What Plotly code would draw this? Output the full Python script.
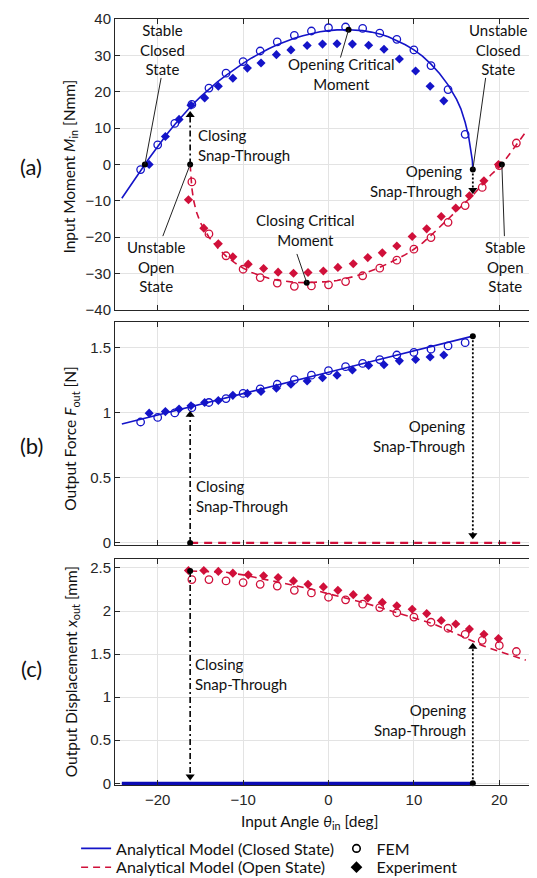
import plotly.graph_objects as go

# ---------------- data ----------------
# Panel (a): input moment M_in [Nmm] vs input angle theta_in [deg]
theta_model_closed = [-24.2, -23, -22, -21.5, -21, -20, -19, -18, -17, -16, -15, -14, -13, -12, -11, -10, -9, -8,
                      -7, -6, -5, -4, -3, -2, -1, 0, 1, 2.35, 3, 4, 5, 6, 7, 8, 9, 10, 11, 12, 13, 14, 15,
                      15.5, 16, 16.4, 16.7, 16.85, 16.9]
M_model_closed = [-9.3, -5.0, -1.5, 0.0, 1.7, 5.0, 8.1, 11.0, 13.8, 16.3, 18.6, 20.7, 22.7, 24.5, 26.2, 27.8, 29.3,
                  30.6, 31.8, 32.9, 33.9, 34.7, 35.4, 36.0, 36.5, 36.8, 37.0, 37.05, 37.0, 36.8, 36.4, 35.9, 35.1,
                  34.1, 32.9, 31.5, 29.8, 27.6, 25.0, 21.9, 17.9, 15.3, 11.6, 7.8, 4.0, 1.0, -1.4]
theta_model_open = [-16.2, -16.1, -16.0, -15.8, -15.5, -15, -14.5, -14, -13, -12, -11, -10, -9, -8, -7, -6, -5, -4,
                    -2.55, -1, 0, 1, 2, 3, 4, 5, 6, 7, 8, 9, 10, 11, 12, 13, 14, 15, 16, 17, 18, 19, 20.3, 21, 22,
                    23.0]
M_model_open = [0.0, -4.0, -6.5, -9.8, -12.8, -16.0, -18.2, -20.0, -22.9, -25.2, -27.0, -28.5, -29.7, -30.6, -31.3,
                -31.8, -32.2, -32.4, -32.5, -32.4, -32.2, -31.9, -31.4, -30.8, -30.1, -29.3, -28.3, -27.2, -26.0,
                -24.8, -23.3, -21.6, -19.5, -17.3, -15.1, -12.7, -10.5, -8.2, -5.6, -2.9, 0.0, 2.3, 5.3, 8.6]

theta_fem_closed = [-22, -20, -18, -16, -14, -12, -10, -8, -6, -4, -2, 0, 2, 4, 6, 8, 10, 12, 14, 16]
M_fem_closed = [-1.4, 5.4, 11.3, 16.5, 21.0, 25.1, 28.3, 31.2, 33.7, 35.5, 36.7, 37.6, 37.8, 37.4, 36.1, 34.4, 31.5,
                27.2, 20.6, 8.3]
theta_exp_closed = [-21.0, -19.1, -17.5, -16.1, -14.5, -12.9, -11.2, -9.5, -7.9, -6.1, -4.4, -2.5, -0.7, 1.0, 2.8,
                    4.7, 6.5, 8.3, 10.2, 11.9, 13.5]
M_exp_closed = [0.0, 7.7, 12.4, 16.3, 18.3, 21.5, 23.7, 26.5, 27.9, 30.2, 31.5, 32.7, 33.1, 33.2, 33.1, 32.8, 31.7,
                29.0, 25.7, 21.5, 17.5]
theta_fem_open = [-16, -14, -12, -10, -8, -6, -4, -2, 0, 2, 4, 6, 8, 10, 12, 14, 16, 18, 20, 22]
M_fem_open = [-4.8, -19.1, -25.1, -28.8, -31.1, -32.6, -33.5, -33.4, -33.1, -32.2, -30.6, -28.5, -26.3, -23.3, -20.1,
              -15.9, -11.3, -6.3, -0.3, 5.9]
theta_exp_open = [-16.4, -14.6, -12.9, -11.2, -9.4, -7.6, -5.9, -4.1, -2.4, -0.6, 1.1, 2.9, 4.6, 6.3, 8.0, 9.8, 11.5,
                  13.2, 14.9, 16.5, 18.2, 19.9]
M_exp_open = [-9.7, -17.5, -21.8, -25.4, -27.4, -28.6, -29.6, -29.9, -29.7, -29.3, -28.3, -27.3, -25.6, -24.3, -22.4,
              -19.8, -17.7, -14.3, -12.0, -8.6, -4.5, 0.0]

# key states in panel (a): stable closed, opening critical, unstable closed, unstable open, closing critical, stable open
key_theta = [-21.5, 2.35, 16.9, -16.2, -2.55, 20.3]
key_M = [0.0, 37.05, -1.4, 0.0, -32.5, 0.0]

# snap-through angles and arrow ends
theta_snap_close = -16.2
theta_snap_open = 16.9
snap_close_a = [0.0, 13.6]   # M: start, arrow tip
snap_open_a = [-1.4, -7.0]
snap_close_b = [0.0, 0.985]  # F
snap_open_b = [1.59, 0.06]
snap_close_c = [2.465, 0.08]  # x_out
snap_open_c = [0.0, 1.585]

# Panel (b): output force F_out [N]
theta_model_closed_b = [-24.2, -20, -16.2, -10, -5, 0, 5, 10, 16.9]
F_model_closed = [0.915, 0.985, 1.045, 1.15, 1.232, 1.313, 1.395, 1.477, 1.59]
theta_model_open_b = [-16.2, 23.0]
F_model_open = [0.0, 0.0]
F_fem_closed = [0.93, 0.965, 1.0, 1.04, 1.08, 1.11, 1.15, 1.185, 1.22, 1.255, 1.29, 1.325, 1.355, 1.38, 1.41, 1.445,
                1.465, 1.49, 1.515, 1.54]
F_exp_closed = [0.998, 1.01, 1.03, 1.055, 1.08, 1.095, 1.135, 1.15, 1.165, 1.19, 1.22, 1.245, 1.27, 1.29, 1.33, 1.365,
                1.37, 1.40, 1.41, 1.43, 1.445]

# Panel (c): output displacement x_out [mm]
theta_model_closed_c = [-24.2, 16.9]
x_model_closed = [0.0, 0.0]
theta_model_open_c = [-16.2, -14, -12, -10, -8, -6, -4, -2, 0, 2, 4, 6, 8, 10, 12, 14, 16, 18, 20, 22, 23.1]
x_model_open = [2.465, 2.46, 2.45, 2.42, 2.38, 2.34, 2.30, 2.255, 2.20, 2.15, 2.10, 2.04, 1.98, 1.92, 1.86, 1.78,
                1.69, 1.60, 1.53, 1.47, 1.43]
x_fem_open = [2.365, 2.365, 2.35, 2.33, 2.31, 2.29, 2.24, 2.21, 2.16, 2.13, 2.08, 2.04, 1.98, 1.93, 1.87, 1.80, 1.73,
              1.66, 1.60, 1.53]
x_exp_open = [2.47, 2.47, 2.46, 2.44, 2.42, 2.41, 2.39, 2.35, 2.31, 2.28, 2.24, 2.19, 2.15, 2.10, 2.06, 2.02, 1.97,
              1.89, 1.85, 1.79, 1.73, 1.68]

x_ticks = [-20, -10, 0, 10, 20]
yticks_a = [-40, -30, -20, -10, 0, 10, 20, 30, 40]
yticks_b = [0, 0.5, 1, 1.5]
ytext_b = ["0", "0.5", "1", "1.5"]
yticks_c = [0, 0.5, 1, 1.5, 2, 2.5]
ytext_c = ["0", "0.5", "1", "1.5", "2", "2.5"]

# ---------------- styling ----------------
BLUE = "#1414C8"
RED = "#D0103A"
BLACK = "#000000"
AX = "#262626"
TXT = "Lato, 'Open Sans', sans-serif"
NUM = "'Liberation Sans', Arial, sans-serif"
SERIF = "'Liberation Serif', 'DejaVu Serif', serif"
ANN_SIZE = 15
TITLE_SIZE = 15.5
LEG_SIZE = 16

W, H = 537, 878
ML, MR, MT, MB = 107, 2, 6, 98
PW, PH = W - ML - MR, H - MT - MB


def px_x(px):
    return (px - ML) / PW


def px_y(py):
    return 1 - (py - MT) / PH


fig = go.Figure()

panels = [("x", "y"), ("x2", "y2"), ("x3", "y3")]


def add(xa, ya, x, y, **kw):
    fig.add_trace(go.Scatter(x=x, y=y, xaxis=xa, yaxis=ya, hoverinfo="skip", **kw))


fem_marker = dict(symbol="circle-open", size=7.5, line=dict(width=1.3))
exp_marker = dict(symbol="diamond", size=7, line=dict(width=0))
dot_marker = dict(symbol="circle", size=6, color=BLACK)
DASHDOT = "6px,3px,2px,3px"

# ---- panel (a)
xa, ya = panels[0]
add(xa, ya, theta_fem_closed, M_fem_closed, mode="markers", marker=dict(color=BLUE, **fem_marker), showlegend=False)
add(xa, ya, theta_exp_closed, M_exp_closed, mode="markers", marker=dict(color=BLUE, **exp_marker), showlegend=False)
add(xa, ya, theta_fem_open, M_fem_open, mode="markers", marker=dict(color=RED, **fem_marker), showlegend=False)
add(xa, ya, theta_exp_open, M_exp_open, mode="markers", marker=dict(color=RED, **exp_marker), showlegend=False)
add(xa, ya, theta_model_closed, M_model_closed, mode="lines", line=dict(color=BLUE, width=1.6),
    name="Analytical Model (Closed State)", legend="legend", showlegend=True)
add(xa, ya, theta_model_open, M_model_open, mode="lines", line=dict(color=RED, width=1.6, dash="7px,5px"),
    name="Analytical Model (Open State)", legend="legend3", showlegend=True)
# snap-through arrows
add(xa, ya, [theta_snap_close] * 2, snap_close_a, mode="lines",
    line=dict(color=BLACK, width=1.6, dash=DASHDOT), showlegend=False)
add(xa, ya, [theta_snap_close], [snap_close_a[1]], mode="markers",
    marker=dict(symbol="triangle-up", size=8, color=BLACK), showlegend=False)
add(xa, ya, [theta_snap_open] * 2, snap_open_a, mode="lines",
    line=dict(color=BLACK, width=1.8, dash="2px,2px"), showlegend=False)
add(xa, ya, [theta_snap_open], [snap_open_a[1]], mode="markers",
    marker=dict(symbol="triangle-down", size=8, color=BLACK), showlegend=False)
add(xa, ya, key_theta, key_M, mode="markers", marker=dot_marker, showlegend=False)

# ---- panel (b)
xa, ya = panels[1]
add(xa, ya, theta_fem_closed, F_fem_closed, mode="markers", marker=dict(color=BLUE, **fem_marker), showlegend=False)
add(xa, ya, theta_exp_closed, F_exp_closed, mode="markers", marker=dict(color=BLUE, **exp_marker), showlegend=False)
add(xa, ya, theta_model_closed_b, F_model_closed, mode="lines", line=dict(color=BLUE, width=1.6), showlegend=False)
add(xa, ya, theta_model_open_b, F_model_open, mode="lines", line=dict(color=RED, width=2.2, dash="8px,6px"),
    showlegend=False)
add(xa, ya, [theta_snap_close] * 2, snap_close_b, mode="lines",
    line=dict(color=BLACK, width=1.6, dash=DASHDOT), showlegend=False)
add(xa, ya, [theta_snap_close], [snap_close_b[1]], mode="markers",
    marker=dict(symbol="triangle-up", size=8, color=BLACK), showlegend=False)
add(xa, ya, [theta_snap_open] * 2, snap_open_b, mode="lines",
    line=dict(color=BLACK, width=1.8, dash="2px,2px"), showlegend=False)
add(xa, ya, [theta_snap_open], [snap_open_b[1]], mode="markers",
    marker=dict(symbol="triangle-down", size=8, color=BLACK), showlegend=False)
add(xa, ya, [theta_snap_close, theta_snap_open], [snap_close_b[0], snap_open_b[0]], mode="markers",
    marker=dot_marker, showlegend=False, cliponaxis=False)

# ---- panel (c)
xa, ya = panels[2]
add(xa, ya, theta_fem_open, x_fem_open, mode="markers", marker=dict(color=RED, **fem_marker), showlegend=False)
add(xa, ya, theta_exp_open, x_exp_open, mode="markers", marker=dict(color=RED, **exp_marker), showlegend=False)
add(xa, ya, theta_model_open_c, x_model_open, mode="lines", line=dict(color=RED, width=1.6, dash="7px,5px"),
    showlegend=False)
add(xa, ya, theta_model_closed_c, x_model_closed, mode="lines", line=dict(color="#0A0AB4", width=3.2),
    showlegend=False)
add(xa, ya, [theta_snap_close] * 2, snap_close_c, mode="lines",
    line=dict(color=BLACK, width=1.6, dash=DASHDOT), showlegend=False)
add(xa, ya, [theta_snap_close], [snap_close_c[1]], mode="markers",
    marker=dict(symbol="triangle-down", size=8, color=BLACK), showlegend=False)
add(xa, ya, [theta_snap_open] * 2, snap_open_c, mode="lines",
    line=dict(color=BLACK, width=1.8, dash="2px,2px"), showlegend=False)
add(xa, ya, [theta_snap_open], [snap_open_c[1]], mode="markers",
    marker=dict(symbol="triangle-up", size=8, color=BLACK), showlegend=False)
add(xa, ya, [theta_snap_close, theta_snap_open], [snap_close_c[0], snap_open_c[0]], mode="markers",
    marker=dot_marker, showlegend=False, cliponaxis=False)

# legend-only entries for the marker types
fig.add_trace(go.Scatter(x=[None], y=[None], mode="markers", name="FEM", legend="legend2",
                         marker=dict(symbol="circle-open", size=7.5, color=BLACK, line=dict(width=1.6))))
fig.add_trace(go.Scatter(x=[None], y=[None], mode="markers", name="Experiment", legend="legend4",
                         marker=dict(symbol="diamond", size=9, color=BLACK)))

# ---------------- axes ----------------
axis_common = dict(showline=True, linecolor=AX, linewidth=1, mirror="ticks", ticks="inside", ticklen=5,
                   tickcolor=AX, tickwidth=1, showgrid=True, gridcolor="#E3E3E3", gridwidth=1, zeroline=False,
                   tickfont=dict(family=NUM, size=15, color=AX), ticklabeloverflow="allow")
dom_a = [px_y(300), 1.0]
dom_b = [px_y(537), px_y(312)]
dom_c = [0.0, px_y(552)]

fig.update_layout(
    xaxis=dict(domain=[0, 1], anchor="y", range=[-25, 25], tickvals=x_ticks, showticklabels=False, **axis_common),
    yaxis=dict(domain=dom_a, anchor="x", range=[-40, 40], tickvals=yticks_a, **axis_common),
    xaxis2=dict(domain=[0, 1], anchor="y2", range=[-25, 25], tickvals=x_ticks, showticklabels=False, **axis_common),
    yaxis2=dict(domain=dom_b, anchor="x2", range=[-0.012, 1.7], tickvals=yticks_b, ticktext=ytext_b, **axis_common),
    xaxis3=dict(domain=[0, 1], anchor="y3", range=[-25, 25], tickvals=x_ticks, ticklabelstandoff=1, **axis_common),
    yaxis3=dict(domain=dom_c, anchor="x3", range=[-0.02, 2.6], tickvals=yticks_c, ticktext=ytext_c, **axis_common),
)

# ---------------- annotations ----------------
ann = []


def note(text, x, y, xref, yref, xanchor="center", align="center", size=ANN_SIZE, **kw):
    ann.append(dict(text=text, x=x, y=y, xref=xref, yref=yref, xanchor=xanchor, yanchor="middle", align=align,
                    showarrow=False, font=dict(family=TXT, size=size, color="#111111"), **kw))


# panel (a)
note("Stable<br>Closed<br>State", -19.4, 31.5, "x", "y")
note("Opening Critical<br>Moment", 1.5, 24.9, "x", "y")
note("Unstable<br>Closed<br>State", 19.8, 31.5, "x", "y")
note("Closing<br>Snap-Through", -15.5, 5.4, "x", "y", xanchor="left", align="left")
note("Opening<br>Snap-Through", 15.9, -4.6, "x", "y", xanchor="right", align="right")
note("Unstable<br>Open<br>State", -20.2, -28.0, "x", "y")
note("Closing Critical<br>Moment", -2.7, -17.9, "x", "y")
note("Stable<br>Open<br>State", 20.7, -28.0, "x", "y")
# panel (b)
note("Opening<br>Snap-Through", 16.2, 0.82, "x2", "y2", xanchor="right", align="right")
note("Closing<br>Snap-Through", -15.7, 0.36, "x2", "y2", xanchor="left", align="left")
# panel (c)
note("Closing<br>Snap-Through", -15.9, 1.27, "x3", "y3", xanchor="left", align="left")
note("Opening<br>Snap-Through", 16.3, 0.73, "x3", "y3", xanchor="right", align="right")

# panel labels
note("(a)", px_x(23), px_y(155), "paper", "paper", size=22)
note("(b)", px_x(23), px_y(437), "paper", "paper", size=22)
note("(c)", px_x(23), px_y(662), "paper", "paper", size=22)


def title(text, px, py, angle):
    ann.append(dict(text=text, x=px_x(px), y=px_y(py), xref="paper", yref="paper", textangle=angle,
                    xanchor="center", yanchor="middle", showarrow=False,
                    font=dict(family=TXT, size=TITLE_SIZE, color="#111111")))


def math(sym, sub):
    return "<span style='font-family:" + SERIF + "'><i>" + sym + "</i><sub>" + sub + "</sub></span>"


title("Input Moment " + math("M", "in") + " [Nmm]", 62, 155, -90)
title("Output Force " + math("F", "out") + " [N]", 63, 430, -90)
title("Output Displacement " + math("x", "out") + " [mm]", 64, 666, -90)
title("Input Angle " + math("θ", "in") + " [deg]", 302, 817, 0)

# leader lines from labels to the key states
leaders = [
    ("x", "y", -19.6, 23.8, key_theta[0], key_M[0]),
    ("x", "y", 1.4, 29.4, key_theta[1], key_M[1]),
    ("x", "y", 18.4, 23.8, key_theta[2], key_M[2]),
    ("x", "y", -19.4, -19.7, key_theta[3], key_M[3]),
    ("x", "y", -3.7, -24.6, key_theta[4], key_M[4]),
    ("x", "y", 20.6, -19.7, key_theta[5], key_M[5]),
]
shapes = [dict(type="line", xref=a, yref=b, x0=x0, y0=y0, x1=x1, y1=y1, line=dict(color="#222222", width=1))
          for a, b, x0, y0, x1, y1 in leaders]

leg_common = dict(xanchor="left", yanchor="top", bgcolor="rgba(0,0,0,0)", tracegroupgap=0, itemwidth=30,
                  font=dict(family=TXT, size=LEG_SIZE, color="#111111"))
ROW1, ROW2 = 827, 846
COL1, COL2 = 68, 329

fig.update_layout(
    width=W, height=H,
    margin=dict(l=ML, r=MR, t=MT, b=MB),
    paper_bgcolor="white", plot_bgcolor="white",
    annotations=ann, shapes=shapes,
    font=dict(family=TXT, size=14, color="#111111"),
    legend=dict(x=px_x(COL1), y=px_y(ROW1), **leg_common),
    legend3=dict(x=px_x(COL1), y=px_y(ROW2), **leg_common),
    legend2=dict(x=px_x(COL2), y=px_y(ROW1), **leg_common),
    legend4=dict(x=px_x(COL2), y=px_y(ROW2), **leg_common),
)

fig.write_html("out.html")
